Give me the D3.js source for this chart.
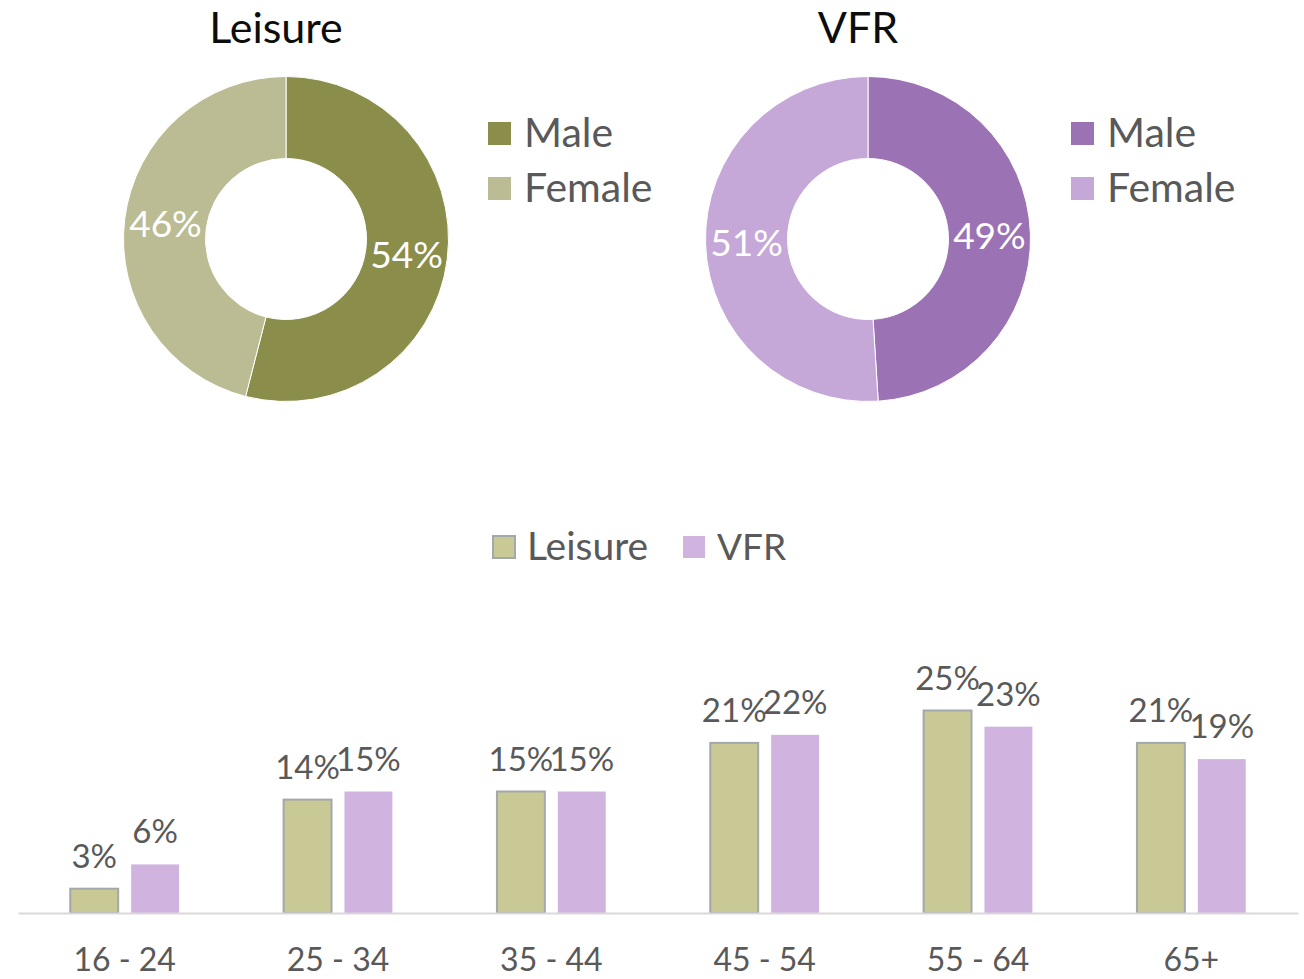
<!DOCTYPE html>
<html>
<head>
<meta charset="utf-8">
<script src="https://cdn.jsdelivr.net/npm/d3@7"></script>
<style>
  body { margin: 0; background: #fff; }
  svg { display: block; font-family: Lato, "Open Sans", sans-serif; }
</style>
</head>
<body>
<div id="vis"></div>
<script>
// gender split per purpose (%)
const genders = ["Male", "Female"];
const leisureGender = [54, 46];
const vfrGender = [49, 51];

// age groups (%)
const ageGroups = ["16 - 24", "25 - 34", "35 - 44", "45 - 54", "55 - 64", "65+"];
const purposes = ["Leisure", "VFR"];
const leisureAge = [3, 14, 15, 21, 25, 21];
const vfrAge = [6, 15, 15, 22, 23, 19];

const width = 1304;
const height = 979;
const textGrey = "#595959";

const svg = d3.select("#vis")
  .append("svg")
  .attr("width", width)
  .attr("height", height);

// ---------- donuts ----------
const donuts = [
  { title: "Leisure", values: leisureGender, cx: 286, cy: 239, legendX: 488,
    colours: ["#8b8d4a", "#bbbc93"] },
  { title: "VFR", values: vfrGender, cx: 868, cy: 239, legendX: 1071,
    colours: ["#9b72b3", "#c5a8d8"] }
];

const pie = d3.pie().sort(null);
const arc = d3.arc().innerRadius(80.5).outerRadius(162.5);
const labelArc = d3.arc().innerRadius(121.5).outerRadius(121.5);

donuts.forEach(dn => {
  const g = svg.append("g").attr("transform", `translate(${dn.cx},${dn.cy})`);
  const arcs = pie(dn.values);

  g.selectAll("path")
    .data(arcs)
    .enter()
    .append("path")
    .attr("d", arc)
    .attr("fill", (d, i) => dn.colours[i])
    .attr("stroke", "#fff")
    .attr("stroke-width", 1);

  g.selectAll("text.val")
    .data(arcs)
    .enter()
    .append("text")
    .attr("class", "val")
    .attr("x", d => labelArc.centroid(d)[0])
    .attr("y", d => labelArc.centroid(d)[1])
    .attr("dy", "0.36em")
    .attr("text-anchor", "middle")
    .attr("fill", "#fff")
    .style("font-size", "37px")
    .text(d => d.data + "%");

  svg.append("text")
    .attr("x", dn.cx - 10)
    .attr("y", 43)
    .attr("text-anchor", "middle")
    .attr("fill", "#0d0d0d")
    .style("font-size", "43px")
    .text(dn.title);

  // legend
  const lg = svg.append("g").attr("transform", `translate(${dn.legendX},122)`);
  genders.forEach((name, i) => {
    lg.append("rect")
      .attr("x", 0).attr("y", i * 55)
      .attr("width", 23).attr("height", 23)
      .attr("fill", dn.colours[i]);
    lg.append("text")
      .attr("x", 36).attr("y", i * 55 + 25)
      .attr("fill", textGrey)
      .style("font-size", "41px")
      .text(name);
  });
});

// ---------- grouped bars ----------
const baseline = 913;
const barColours = { Leisure: "#c9c995", VFR: "#d0b3de" };

const x0 = d3.scaleBand()
  .domain(ageGroups)
  .range([18, 1298])
  .paddingInner(0.49)
  .paddingOuter(0.245);

const x1 = d3.scaleBand()
  .domain(purposes)
  .range([0, x0.bandwidth()])
  .paddingInner(0.213);

const y = d3.scaleLinear()
  .domain([0, 30])
  .range([baseline, baseline - 243]);

const rows = ageGroups.map((a, i) => ({ age: a, Leisure: leisureAge[i], VFR: vfrAge[i] }));

const groups = svg.selectAll(".grp")
  .data(rows)
  .enter()
  .append("g")
  .attr("class", "grp")
  .attr("transform", d => `translate(${x0(d.age)},0)`);

groups.selectAll("rect")
  .data(d => purposes.map(p => ({ key: p, value: d[p] })))
  .enter()
  .append("rect")
  .attr("x", d => x1(d.key))
  .attr("y", d => y(d.value))
  .attr("width", x1.bandwidth())
  .attr("height", d => baseline - y(d.value))
  .attr("fill", d => barColours[d.key])
  .attr("stroke", d => d.key === "Leisure" ? "#a3a8ab" : "none")
  .attr("stroke-width", 2);

groups.selectAll("text")
  .data(d => purposes.map(p => ({ key: p, value: d[p] })))
  .enter()
  .append("text")
  .attr("x", d => x1(d.key) + x1.bandwidth() / 2)
  .attr("y", d => y(d.value) - 21)
  .attr("text-anchor", "middle")
  .attr("fill", textGrey)
  .style("font-size", "33px")
  .text(d => d.value + "%");

// x axis
const xAxis = svg.append("g")
  .attr("transform", `translate(0,${baseline})`)
  .call(d3.axisBottom(x0).tickSize(0).tickPadding(35));
xAxis.select(".domain").attr("stroke", "#d9d9d9").attr("stroke-width", 2);
xAxis.selectAll("text")
  .attr("fill", textGrey)
  .style("font-family", "Lato, 'Open Sans', sans-serif")
  .style("font-size", "32px");

// bar legend
const bl = svg.append("g").attr("transform", "translate(492,535)");
const legendX = [0, 190];
purposes.forEach((p, i) => {
  bl.append("rect")
    .attr("x", legendX[i] + 1).attr("y", 1)
    .attr("width", 22).attr("height", 22)
    .attr("fill", barColours[p])
    .attr("stroke", p === "Leisure" ? "#a3a8ab" : "none")
    .attr("stroke-width", 2);
  bl.append("text")
    .attr("x", legendX[i] + 35).attr("y", 25)
    .attr("fill", textGrey)
    .style("font-size", i === 0 ? "39px" : "37px")
    .text(p);
});
</script>
</body>
</html>
